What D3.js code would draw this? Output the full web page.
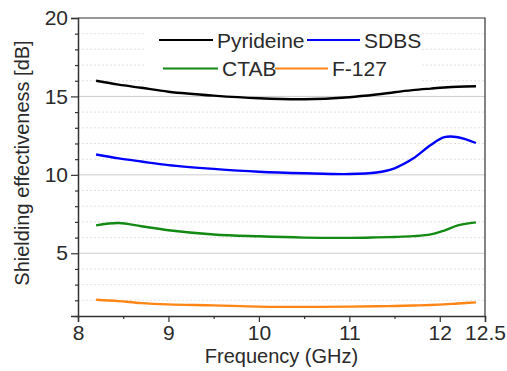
<!DOCTYPE html>
<html>
<head>
<meta charset="UTF-8">
<title>Shielding effectiveness</title>
<script src="https://d3js.org/d3.v7.min.js"></script>
<style>
  body { margin: 0; background: #fff; }
  text { font-family: "Liberation Sans", Arial, sans-serif; fill: #2a2a2a; }
</style>
</head>
<body>
<div id="chart"></div>
<script>
// 频率 (GHz)
var freq = [8.2, 8.45, 8.7, 9.0, 9.5, 10.0, 10.5, 11.0, 11.3, 11.5, 11.7, 11.9, 12.05, 12.2, 12.4];
// 各分散剂的屏蔽效能 (dB)
var pyridine = [16.0, 15.75, 15.55, 15.3, 15.05, 14.88, 14.82, 14.95, 15.12, 15.27, 15.4, 15.5, 15.57, 15.62, 15.65];
var sdbs     = [11.3, 11.05, 10.85, 10.62, 10.38, 10.2, 10.1, 10.05, 10.15, 10.42, 11.02, 11.9, 12.4, 12.4, 12.03];
var ctab     = [6.78, 6.93, 6.72, 6.47, 6.2, 6.08, 6.0, 5.98, 6.01, 6.04, 6.09, 6.2, 6.45, 6.78, 6.97];
var f127     = [2.04, 1.95, 1.82, 1.74, 1.68, 1.6, 1.58, 1.6, 1.62, 1.64, 1.67, 1.7, 1.74, 1.8, 1.87];

var names = ["Pyrideine", "SDBS", "CTAB", "F-127"];
var colors = ["#000000", "#0000ff", "#138a13", "#ff8515"];
var seriesList = [pyridine, sdbs, ctab, f127];

var xTicks = [8, 9, 10, 11, 12, 12.5];
var yTicks = [5, 10, 15, 20];

var width = 507, height = 371;
var margin = { left: 78, right: 22, top: 18, bottom: 55 };

var svg = d3.select("#chart").append("svg")
    .attr("width", width)
    .attr("height", height);

var x = d3.scaleLinear().domain([8, 12.5]).range([margin.left, width - margin.right]);
var y = d3.scaleLinear().domain([1, 20]).range([height - margin.bottom, margin.top]);

// 网格线
var grid = svg.append("g");
grid.selectAll("line.minor")
    .data(d3.range(2, 20).filter(function (v) { return v % 5 != 0; }))
    .enter().append("line")
    .attr("x1", x(8)).attr("x2", x(12.5))
    .attr("y1", function (d) { return y(d); })
    .attr("y2", function (d) { return y(d); })
    .attr("stroke", "#e2e2e2")
    .attr("stroke-dasharray", "2,2")
    .attr("stroke-width", 1);
grid.selectAll("line.major")
    .data([5, 10, 15])
    .enter().append("line")
    .attr("x1", x(8)).attr("x2", x(12.5))
    .attr("y1", function (d) { return y(d); })
    .attr("y2", function (d) { return y(d); })
    .attr("stroke", "#cccccc")
    .attr("stroke-width", 1);

// 图例背景
svg.append("rect")
    .attr("x", 145).attr("y", 20)
    .attr("width", 275).attr("height", 68)
    .attr("fill", "#fff");

// 曲线
var line = d3.line()
    .x(function (d) { return x(d[0]); })
    .y(function (d) { return y(d[1]); })
    .curve(d3.curveCatmullRom.alpha(0.5));

seriesList.forEach(function (s, i) {
    svg.append("path")
        .datum(freq.map(function (f, j) { return [f, s[j]]; }))
        .attr("d", line)
        .attr("fill", "none")
        .attr("stroke", colors[i])
        .attr("stroke-width", 2.4);
});

// 坐标轴
var xAxis = svg.append("g")
    .attr("transform", "translate(0," + y(1) + ")")
    .call(d3.axisBottom(x).tickValues(d3.range(8, 12.51, 0.5)).tickSize(6)
        .tickFormat(function (d) { return xTicks.indexOf(d) >= 0 ? d : ""; }));
xAxis.selectAll(".tick line")
    .attr("y2", function (d) { return xTicks.indexOf(d) >= 0 ? 6 : 3; });

var yAxis = svg.append("g")
    .attr("transform", "translate(" + x(8) + ",0)")
    .call(d3.axisLeft(y).tickValues(d3.range(1, 20.5, 1)).tickSize(7)
        .tickFormat(function (d) { return yTicks.indexOf(d) >= 0 ? d : ""; }));
yAxis.selectAll(".tick line")
    .attr("x2", function (d) { return yTicks.indexOf(d) >= 0 ? -7 : -3; });

[xAxis, yAxis].forEach(function (a) {
    a.select(".domain").attr("stroke", "#333").attr("stroke-width", 1.5);
    a.selectAll(".tick line").attr("stroke", "#333").attr("stroke-width", 1.2);
    a.selectAll(".tick text")
        .attr("font-family", "Liberation Sans, Arial, sans-serif")
        .attr("font-size", "21px")
        .attr("fill", "#2a2a2a");
});
xAxis.selectAll(".tick text").attr("y", 9);
yAxis.selectAll(".tick text").attr("x", -10);

// 上边框和右边框
svg.append("path")
    .attr("d", "M" + x(8) + "," + y(20) + "H" + x(12.5) + "V" + y(1))
    .attr("fill", "none")
    .attr("stroke", "#333")
    .attr("stroke-width", 1.2);

// 轴标题
svg.append("text")
    .attr("x", (x(8) + x(12.5)) / 2)
    .attr("y", 363)
    .attr("text-anchor", "middle")
    .attr("font-size", "20px")
    .text("Frequency (GHz)");

svg.append("text")
    .attr("transform", "translate(29," + 163 + ") rotate(-90)")
    .attr("text-anchor", "middle")
    .attr("font-size", "20px")
    .text("Shielding effectiveness [dB]");

// 图例
var legendPos = [
    { x1: 159, x2: 213, tx: 217, y: 40 },
    { x1: 307, x2: 360, tx: 364, y: 40 },
    { x1: 163, x2: 218, tx: 222, y: 68.5 },
    { x1: 275, x2: 328, tx: 332, y: 68.5 }
];
var legend = svg.append("g");
names.forEach(function (n, i) {
    var p = legendPos[i];
    legend.append("line")
        .attr("x1", p.x1).attr("x2", p.x2)
        .attr("y1", p.y).attr("y2", p.y)
        .attr("stroke", colors[i])
        .attr("stroke-width", 2.2);
    legend.append("text")
        .attr("x", p.tx)
        .attr("y", p.y)
        .attr("dy", "0.36em")
        .attr("font-size", "21px")
        .text(n);
});
</script>
</body>
</html>
